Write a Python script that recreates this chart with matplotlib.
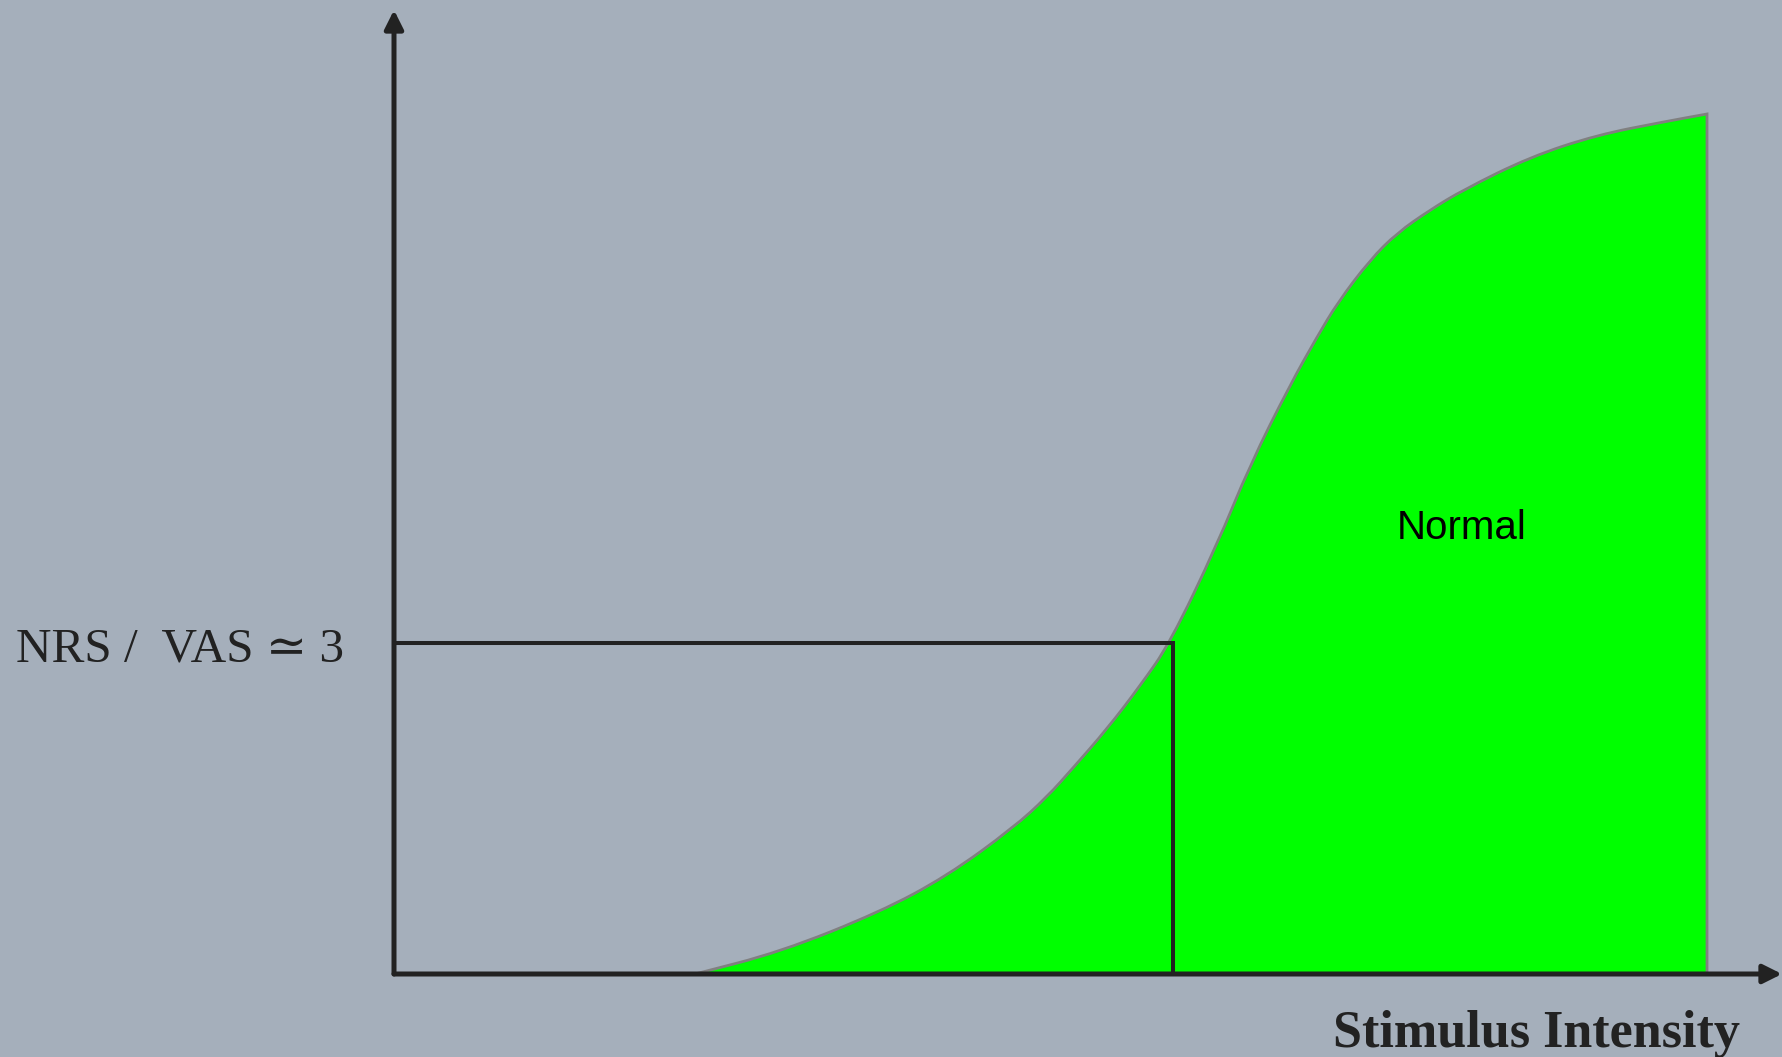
import matplotlib
matplotlib.use("Agg")
import matplotlib.pyplot as plt
from matplotlib.path import Path
from matplotlib.patches import PathPatch

# Stimulus–response curve ("Normal")
stimulus = [3.01, 3.86, 4.86, 5.53, 6.19, 6.53, 6.79, 7.13, 7.46, 7.76, 8.23, 8.56,
            8.96, 9.23, 9.44, 9.76, 10.03, 10.36, 10.69, 11.36, 12.03, 12.69, 13.13]
response = [0.00, 0.22, 0.62, 0.98, 1.46, 1.77, 2.06, 2.45, 2.88, 3.31, 4.29, 5.09,
            5.89, 6.37, 6.72, 7.14, 7.41, 7.64, 7.84, 8.17, 8.39, 8.52, 8.60]
threshold_level = 3.31      # NRS / VAS ≃ 3
threshold_stimulus = 7.79
x_max, y_max = 13.88, 9.64

bg = "#A5AFBB"
dark = "#222222"

fig = plt.figure(figsize=(17.82, 10.57), dpi=100, facecolor=bg)
ax = fig.add_axes([394 / 1782, 83 / 1057, 1388 / 1782, 964 / 1057])
ax.set_facecolor("none")
ax.set_xlim(0, x_max)
ax.set_ylim(0, y_max)
ax.axis("off")

# smooth outline through the read points (quadratic Bezier via midpoints)
pts = list(zip(stimulus, response))
verts = [pts[0]]
codes = [Path.MOVETO]
mid = lambda a, b: ((a[0] + b[0]) / 2, (a[1] + b[1]) / 2)
verts.append(mid(pts[0], pts[1]))
codes.append(Path.LINETO)
for i in range(1, len(pts) - 1):
    verts += [pts[i], mid(pts[i], pts[i + 1])]
    codes += [Path.CURVE3, Path.CURVE3]
verts.append(pts[-1])
codes.append(Path.LINETO)
verts += [(stimulus[-1], 0), (stimulus[0], 0), pts[0]]
codes += [Path.LINETO, Path.LINETO, Path.CLOSEPOLY]
ax.add_patch(PathPatch(Path(verts, codes), facecolor="#00FF00", edgecolor="#808080",
                       lw=2.0, joinstyle="miter", zorder=1))

# threshold lines
ax.plot([0, threshold_stimulus, threshold_stimulus], [threshold_level, threshold_level, 0],
        color=dark, lw=2.9, solid_joinstyle="miter", zorder=3)

# axes with arrows
arrow = dict(arrowstyle="-|>,head_length=0.8,head_width=0.4", lw=3.6, color=dark,
             mutation_scale=14, shrinkA=0, shrinkB=0)
ax.annotate("", xy=(x_max, 0), xytext=(0, 0), arrowprops=arrow, annotation_clip=False, zorder=4)
ax.annotate("", xy=(0, y_max), xytext=(0, 0), arrowprops=arrow, annotation_clip=False, zorder=4)

ax.text(10.03, 4.35, "Normal", fontsize=29, family=["Liberation Sans", "DejaVu Sans"],
        ha="left", va="baseline", color="black", zorder=5)
ax.text(-3.78, 3.13, "NRS /  VAS \u2243 3", fontsize=35.5,
        family=["Liberation Serif", "DejaVu Serif"], ha="left", va="baseline",
        color=dark, clip_on=False)
ax.text(9.39, -0.73, "Stimulus Intensity", fontsize=37.5, fontweight="bold",
        family=["Liberation Serif", "DejaVu Serif"], ha="left", va="baseline",
        color=dark, clip_on=False)

fig.savefig("out.png", dpi=100, facecolor=bg)
